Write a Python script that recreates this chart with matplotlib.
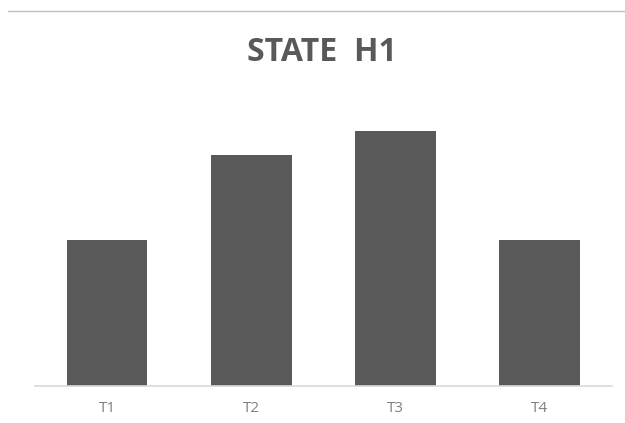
import matplotlib.pyplot as plt
from matplotlib.lines import Line2D

# categories and bar values
labels = ["T1", "T2", "T3", "T4"]
values = [6, 9.5, 10.5, 6]

fig = plt.figure(figsize=(6.25, 4.23), dpi=100)
ax = fig.add_axes([0.056, 0.0875, 0.923, 0.689])

ax.bar(range(len(labels)), values, width=0.56, color="#595959")
ax.set_xlim(-0.5, len(labels) - 0.5)
ax.set_ylim(0, 12)

ax.set_xticks(range(len(labels)))
ax.set_xticklabels(labels, fontsize=11, color="#808080", family="Open Sans")
ax.tick_params(axis="x", length=0, pad=11)
ax.set_yticks([])
for side in ["top", "right", "left"]:
    ax.spines[side].set_visible(False)
ax.spines["bottom"].set_color("#d9d9d9")
ax.spines["bottom"].set_linewidth(1.2)

fig.text(0.515, 0.877, "STATE  H1", ha="center", va="center", fontsize=23,
         fontweight="bold", color="#595959", family="Open Sans")

# thin rule along the top
fig.add_artist(Line2D([0.013, 1.0], [0.973, 0.973], color="#c0c0c0", lw=1.0))

fig.savefig("out.png", dpi=100)
